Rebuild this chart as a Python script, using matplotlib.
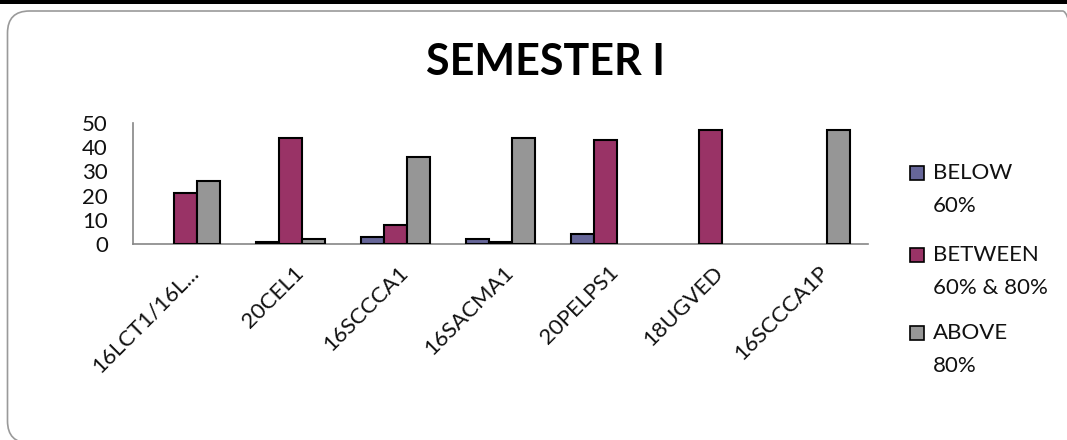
import matplotlib
matplotlib.use("Agg")
import matplotlib.pyplot as plt
import numpy as np
from matplotlib.patches import FancyBboxPatch, Rectangle
from matplotlib.transforms import IdentityTransform, ScaledTranslation

categories = ["16LCT1/16L...", "20CEL1", "16SCCCA1", "16SACMA1", "20PELPS1", "18UGVED", "16SCCCA1P"]
series_names = ["BELOW\n60%", "BETWEEN\n60% & 80%", "ABOVE\n80%"]
below = [0, 1, 3, 2, 4, 0, 0]
between = [21, 44, 8, 1, 43, 47, 0]
above = [26, 2, 36, 44, 0, 0, 47]
yticks = [0, 10, 20, 30, 40, 50]
colors = ["#666699", "#993366", "#969696"]

W, H = 1067, 440
plt.rcParams['font.family'] = ['Lato', 'DejaVu Sans']
fig = plt.figure(figsize=(W / 100, H / 100), dpi=100)

# outer rounded border and top black band
border = FancyBboxPatch((7.5, -3), W + 10, H - 11 + 3, boxstyle="round,pad=0,rounding_size=22",
                        transform=IdentityTransform(), facecolor="none", edgecolor="#9a9a9a",
                        linewidth=1.2, zorder=0)
fig.patches.append(border)
fig.patches.append(Rectangle((0, H - 4), W, 4, transform=IdentityTransform(),
                             facecolor="black", edgecolor="none", zorder=1))

ax = fig.add_axes([133 / W, 1 - 244 / H, (868 - 133) / W, (244 - 123) / H])
ax.set_zorder(3)
ax.set_facecolor("none")
x = np.arange(len(categories))
bw = 0.222
for i, (vals, c) in enumerate(zip([below, between, above], colors)):
    bars = ax.bar(x + (i - 1) * bw, vals, width=bw, color=c, edgecolor="black", linewidth=1.5, zorder=3)
    for b, v in zip(bars, vals):
        if v == 0:
            b.set_visible(False)

ax.set_xlim(-0.5, len(categories) - 0.5)
ax.set_ylim(0, 50)
ax.set_yticks(yticks)
ax.set_yticklabels([str(t) for t in yticks], fontsize=16)
ax.tick_params(axis='both', length=0, labelcolor="#111111")
ax.tick_params(axis='y', pad=18)
ax.set_xticks(x)
ax.set_xticklabels(categories, rotation=45, ha='right', va='center', rotation_mode='anchor', fontsize=16)
ax.tick_params(axis='x', pad=14)
off = ScaledTranslation(10 / 100, -6 / 100, fig.dpi_scale_trans)
for lab in ax.get_xticklabels():
    lab.set_transform(lab.get_transform() + off)
for s in ["top", "right"]:
    ax.spines[s].set_visible(False)
for s in ["left", "bottom"]:
    ax.spines[s].set_color("#868686")
    ax.spines[s].set_linewidth(1.2)

fig.text(546 / W, 1 - 62 / H, "SEMESTER I", ha='center', va='center', fontsize=31, fontweight='bold')

# legend
entry_y = [173, 255, 333]
for name, c, ey in zip(series_names, colors, entry_y):
    fig.patches.append(Rectangle((910, H - ey - 7), 14, 14, transform=IdentityTransform(),
                                 facecolor=c, edgecolor="black", linewidth=1.2, zorder=2))
    for j, line in enumerate(name.split("\n")):
        fig.text(933 / W, 1 - (ey + j * 33) / H, line, ha='left', va='center', fontsize=16, color="#111111")

fig.savefig("out.png", dpi=100)
